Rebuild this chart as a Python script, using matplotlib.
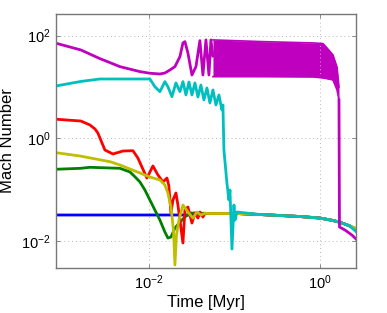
import matplotlib
matplotlib.use("Agg")
from matplotlib import pyplot as plt

plt.rcParams['font.family'] = ['Liberation Sans', 'DejaVu Sans']
plt.rcParams['mathtext.fontset'] = 'custom'
plt.rcParams['mathtext.rm'] = 'Liberation Sans'

# shared late-time tail (Myr, Mach)
tail_t = [0.0452, 0.0516, 0.107, 0.199, 0.34, 0.583, 1.0, 1.42, 1.67, 1.96, 2.24]
tail_M = [0.0345, 0.0342, 0.0342, 0.0327, 0.0313, 0.0299, 0.0279, 0.025, 0.0233, 0.0213, 0.0195]

blue_t = [8.2e-4, 0.0395] + tail_t + [2.64]
blue_M = [0.032, 0.032] + tail_M + [0.0160]

green_t = [8.2e-4, 0.0016, 0.00204, 0.00458, 0.0060, 0.00686, 0.00785, 0.00898, 0.01027,
           0.01175, 0.01345, 0.01538, 0.01668, 0.0181, 0.02014, 0.02306, 0.02637, 0.0302] + tail_t + [2.64]
green_M = [0.249, 0.26, 0.272, 0.26, 0.221, 0.178, 0.141, 0.0983, 0.0627,
           0.04, 0.0255, 0.0149, 0.0114, 0.0119, 0.0178, 0.0233, 0.0292, 0.035] + tail_M + [0.0170]

red_t = [8.2e-4, 0.0016, 0.00204, 0.00234, 0.00253, 0.00306, 0.0038, 0.00497, 0.0065, 0.00743,
         0.00948, 0.01114, 0.01274, 0.0146, 0.01625, 0.0171, 0.0181, 0.0191, 0.0207, 0.02184,
         0.025, 0.02637, 0.02858, 0.03185, 0.03452, 0.03742, 0.03946, 0.04281] + tail_t + [2.64]
red_M = [2.35, 2.17, 1.82, 1.52, 1.27, 0.591, 0.494, 0.565, 0.573, 0.413,
         0.168, 0.289, 0.193, 0.141, 0.168, 0.12, 0.035, 0.0627, 0.0859, 0.0501,
         0.0091, 0.04, 0.0458, 0.0223, 0.035, 0.0279, 0.0366, 0.0292] + tail_M + [0.0165]

yellow_t = [8.2e-4, 0.00156, 0.0035, 0.00458, 0.00785, 0.01027, 0.01345, 0.01538, 0.01668,
            0.0181, 0.01937, 0.02014, 0.021, 0.02244, 0.025, 0.02858, 0.03273, 0.03642, 0.04055] + tail_t + [2.64]
yellow_M = [0.524, 0.452, 0.35, 0.302, 0.211, 0.176, 0.154, 0.123, 0.0859,
            0.0458, 0.0163, 0.0034, 0.013, 0.0255, 0.0501, 0.0366, 0.0279, 0.0366, 0.032] + tail_M + [0.0178]

cyan_t = [8.2e-4, 0.0016, 0.00267, 0.01027, 0.01175, 0.01345, 0.01538, 0.01668, 0.01858, 0.0207,
          0.02306, 0.025, 0.0271, 0.0294, 0.03185, 0.03452, 0.03742, 0.04055, 0.04395, 0.04771,
          0.05164, 0.05606, 0.06075, 0.06586, 0.07138, 0.07334, 0.07534, 0.08166, 0.08621, 0.0886,
          0.09354, 0.0987, 0.1014, 0.107] + tail_t[3:] + [2.64]
cyan_M = [10.45, 12.8, 14.3, 14.3, 10.1, 8.1, 12.7, 10.1, 6.47, 12.0,
          8.1, 12.7, 6.98, 12.5, 6.98, 12.0, 6.38, 10.9, 5.58, 9.57,
          4.88, 8.74, 4.46, 6.98, 3.57, 4.46, 0.591, 0.1345, 0.0627, 0.0983,
          0.00695, 0.0501, 0.0255, 0.0366] + tail_M[3:] + [0.0152]

mag_t = [8.2e-4, 0.0016, 0.00267, 0.00458, 0.00785, 0.01027, 0.01345, 0.01538, 0.0176, 0.02014,
         0.02306, 0.025, 0.02637, 0.02858, 0.03185, 0.03548, 0.03946, 0.04281, 0.04643, 0.05032,
         0.05307, 0.05606]
mag_M = [71.1, 52.6, 35.7, 24.9, 19.9, 18.5, 17.9, 18.7, 21.4, 24.9,
         39.0, 72.1, 76.4, 46.0, 17.1, 24.9, 80.0, 17.1, 82.5, 17.1,
         82.5, 40.0]

# dense oscillation band: upper / lower envelope
band_t = [0.05606, 0.2153, 0.828, 1.084, 1.207, 1.419, 1.581, 1.668]
band_hi = [82.5, 76.4, 72.1, 70.0, 57.6, 42.1, 24.5, 10.0]
band_lo = [15.9, 15.9, 15.7, 15.0, 14.5, 13.7, 8.74, 5.58]

mag_end_t = [1.668, 1.69, 1.96, 2.366, 2.64]
mag_end_M = [5.58, 0.0187, 0.0163, 0.013, 0.0109]

fig = plt.figure(figsize=(3.87, 3.13), dpi=100)
ax = fig.add_axes([0.1447, 0.1438, 0.7753, 0.8115])
lw = 2.0
ax.plot(blue_t, blue_M, color='#0000ff', lw=lw)
ax.plot(green_t, green_M, color='#008000', lw=lw)
ax.plot(red_t, red_M, color='#ff0000', lw=lw)
ax.plot(yellow_t, yellow_M, color='#bfbf00', lw=lw)
ax.plot(cyan_t, cyan_M, color='#00bfbf', lw=lw)
ax.plot(mag_t, mag_M, color='#bf00bf', lw=lw)
ax.fill_between(band_t, band_lo, band_hi, color='#bf00bf', lw=0)
ax.plot(band_t, band_hi, color='#bf00bf', lw=1.2)
ax.plot(band_t, band_lo, color='#bf00bf', lw=1.2)
ax.plot(mag_end_t, mag_end_M, color='#bf00bf', lw=lw)

ax.set_xscale('log')
ax.set_yscale('log')
ax.set_xlim(8.2e-4, 2.64)
ax.set_ylim(2.97e-3, 264)
ax.set_xticks([1e-2, 1e0])
ax.set_yticks([1e-2, 1e0, 1e2])
ax.minorticks_off()
ax.tick_params(direction='in', length=3, width=0.6, color='#777777',
               labelsize=10.5, top=True, right=True, pad=4)
for s in ax.spines.values():
    s.set_color('#777777')
    s.set_linewidth(1.0)
ax.grid(True, which='major', linestyle=(0, (1, 3)), color='#b8b8b8', lw=0.7)
ax.set_xlabel('Time [Myr]', fontsize=12, labelpad=2)
ax.set_ylabel('Mach Number', fontsize=12, labelpad=4)

fig.savefig('out.png', dpi=100)
